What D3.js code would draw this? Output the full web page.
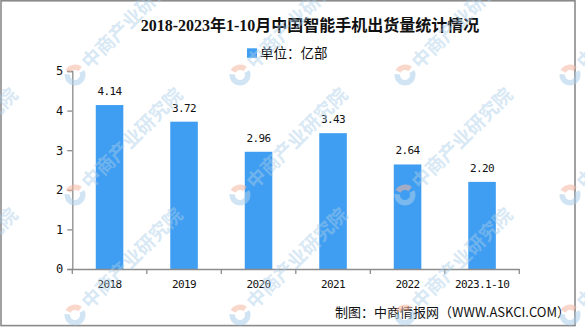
<!DOCTYPE html>
<html>
<head>
<meta charset="utf-8">
<script src="https://cdn.jsdelivr.net/npm/d3@7"></script>
<style>
  html, body { margin: 0; padding: 0; background: #fff; }
  svg { display: block; }
</style>
</head>
<body>
<svg id="chart" width="585" height="327"></svg>
<script>
// Smartphone shipments in China, 2018 to Jan-Oct 2023 (unit: 100 million)
const categories = ["2018", "2019", "2020", "2021", "2022", "2023.1-10"];
const shipments = [4.14, 3.72, 2.96, 3.43, 2.64, 2.20];
const yTicks = [0, 1, 2, 3, 4, 5];
const titleText = "2018-2023年1-10月中国智能手机出货量统计情况";
const legendText = "单位：亿部";
const sourceText = "制图：中商情报网（WWW.ASKCI.COM）";
const watermarkText = "中商产业研究院";

const W = 585, H = 327;
const svg = d3.select("#chart");
const barColor = "#409ef2";
const axisColor = "#8c8c8c";
const cjk = "'Noto Sans CJK SC', 'Noto Sans', sans-serif";
const mono = "'DejaVu Sans Mono', 'Liberation Mono', monospace";

svg.append("rect").attr("width", W).attr("height", H).attr("fill", "#fff");

// plot area
const plot = { left: 72.3, right: 519.3, top: 71, bottom: 269 };

const x = d3.scaleBand().domain(categories).range([plot.left, plot.right]).padding(0);
const y = d3.scaleLinear().domain([0, 5]).range([plot.bottom, plot.top]);
const barW = x.bandwidth() * 0.37;

// title
svg.append("text")
  .attr("x", 310).attr("y", 31)
  .attr("text-anchor", "middle")
  .attr("font-family", "'Liberation Serif', " + cjk)
  .attr("font-weight", "bold")
  .attr("font-size", 16)
  .attr("fill", "#111")
  .text(titleText);

// legend
svg.append("rect")
  .attr("x", 247).attr("y", 48.3).attr("width", 10).attr("height", 9.5)
  .attr("fill", barColor);
svg.append("text")
  .attr("x", 260).attr("y", 58)
  .attr("font-family", cjk)
  .attr("font-size", 13.5)
  .attr("fill", "#111")
  .text(legendText);

// bars
svg.append("g").selectAll("rect")
  .data(categories)
  .join("rect")
  .attr("x", (d) => x(d) + x.bandwidth() / 2 - barW / 2)
  .attr("y", (d, i) => y(shipments[i]))
  .attr("width", barW)
  .attr("height", (d, i) => y(0) - y(shipments[i]))
  .attr("fill", barColor);

// value labels
svg.append("g").selectAll("text")
  .data(categories)
  .join("text")
  .attr("x", (d) => x(d) + x.bandwidth() / 2)
  .attr("y", (d, i) => y(shipments[i]) - 10)
  .attr("text-anchor", "middle")
  .attr("font-family", mono)
  .attr("font-size", 11)
  .attr("letter-spacing", -0.6)
  .attr("fill", "#111")
  .text((d, i) => shipments[i].toFixed(2));

// y axis
const yAxis = svg.append("g")
  .attr("transform", `translate(${plot.left},0)`)
  .call(d3.axisLeft(y).tickValues(yTicks).tickSize(5).tickPadding(4).tickFormat(d3.format("d")));
yAxis.select(".domain").attr("stroke", axisColor).attr("stroke-width", 1.3);
yAxis.selectAll(".tick line").attr("stroke", axisColor).attr("stroke-width", 1.3);
yAxis.selectAll(".tick text")
  .attr("font-family", mono).attr("font-size", 12).attr("fill", "#111");

// x axis: baseline with ticks on category boundaries
const xAxis = svg.append("g")
  .attr("transform", `translate(0,${plot.bottom})`)
  .call(d3.axisBottom(x).tickSize(0).tickPadding(11));
xAxis.select(".domain").attr("stroke", axisColor).attr("stroke-width", 1.3);
xAxis.selectAll(".tick text")
  .attr("font-family", mono).attr("font-size", 11).attr("letter-spacing", -0.6).attr("fill", "#111");
const bounds = categories.map((c) => x(c)).concat([x.range()[1]]);
xAxis.selectAll("line.sep")
  .data(bounds)
  .join("line")
  .attr("class", "sep")
  .attr("x1", (d) => d).attr("x2", (d) => d)
  .attr("y1", 0).attr("y2", 5)
  .attr("stroke", axisColor).attr("stroke-width", 1.3);

// source note
svg.append("text")
  .attr("x", 570).attr("y", 317)
  .attr("text-anchor", "end")
  .attr("font-family", cjk)
  .attr("font-size", 13)
  .attr("fill", "#111")
  .text(sourceText);

// frame
svg.append("rect")
  .attr("x", 1).attr("y", 0.8).attr("width", 574).attr("height", 324.8)
  .attr("fill", "none").attr("stroke", "#8a8a8a").attr("stroke-width", 1.6);

// repeating watermark
const wmCols = [-90, 75, 240, 405, 570];
const wmRows = [75, 195, 315];
const wm = svg.append("g").attr("pointer-events", "none");
wmRows.forEach((ry) => {
  wmCols.forEach((cx) => {
    const g = wm.append("g").attr("transform", `translate(${cx},${ry}) rotate(-45)`);
    const arc = d3.arc().innerRadius(5).outerRadius(10.5);
    g.append("path")
      .attr("d", arc({ startAngle: -0.3, endAngle: 1.5 }))
      .attr("fill", "#f6b7a0").attr("opacity", 0.55);
    g.append("path")
      .attr("d", arc({ startAngle: 1.9, endAngle: 5.6 }))
      .attr("fill", "#a9cde9").attr("opacity", 0.55);
    g.append("text")
      .attr("x", 14).attr("y", 7)
      .attr("font-family", cjk)
      .attr("font-weight", "bold")
      .attr("font-size", 19)
      .attr("fill", "#a9cde9")
      .attr("opacity", 0.45)
      .text(watermarkText);
  });
});
</script>
</body>
</html>
